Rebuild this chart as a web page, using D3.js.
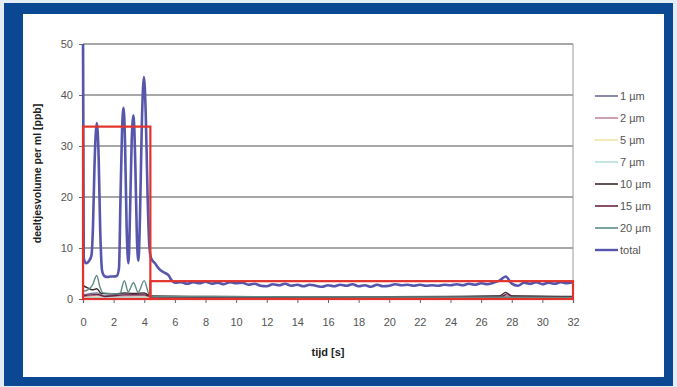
<!DOCTYPE html>
<html>
<head>
<meta charset="utf-8">
<script src="https://cdn.jsdelivr.net/npm/d3@7"></script>
<style>
  html, body { margin: 0; padding: 0; background: #ffffff; }
  svg { display: block; }
  text { font-family: "Liberation Sans", Arial, sans-serif; }
</style>
</head>
<body>
<svg id="chart" width="677" height="387"></svg>
<script>
// Particle volume per ml over time, per particle size class
const xTicks = [0, 2, 4, 6, 8, 10, 12, 14, 16, 18, 20, 22, 24, 26, 28, 30, 32];
const yTicks = [0, 10, 20, 30, 40, 50];

const seriesNames = ["1 µm", "2 µm", "5 µm", "7 µm", "10 µm", "15 µm", "20 µm", "total"];
const seriesColors = ["#6f6f94", "#c48a9a", "#efe4a6", "#b4dede", "#3b2b2b", "#6b2446", "#5e8c84", "#5656ac"];

// [time (s), volume (ppb)]
const size1 = [[0, 0.8], [0.9, 1.2], [1.4, 0.6], [2.7, 1.0], [3.3, 0.9], [4.0, 1.0], [4.5, 0.5], [10, 0.4], [20, 0.3], [27.6, 0.6], [32, 0.4]];
const size2 = [[0, 0.4], [0.9, 0.7], [1.4, 0.3], [2.7, 0.6], [4.0, 0.6], [4.5, 0.3], [16, 0.2], [27.6, 0.4], [32, 0.2]];
const size5 = [[0, 0.2], [0.9, 0.4], [2.7, 0.3], [4.0, 0.4], [4.5, 0.2], [32, 0.1]];
const size7 = [[0, 0.2], [0.9, 0.3], [2.7, 0.3], [4.0, 0.3], [4.5, 0.1], [32, 0.1]];
const size10 = [[0, 2.6], [0.3, 2.2], [0.6, 1.8], [0.9, 2.0], [1.2, 1.1], [2.0, 1.0], [2.7, 1.2], [3.3, 1.1], [4.0, 1.2], [4.4, 0.6], [8, 0.5], [16, 0.4], [24, 0.5], [27.2, 0.6], [27.6, 1.3], [28.0, 0.6], [32, 0.5]];
const size15 = [[0, 0.6], [0.9, 0.9], [1.4, 0.5], [2.7, 0.8], [4.0, 0.8], [4.5, 0.4], [12, 0.3], [27.3, 0.4], [27.7, 1.0], [28.1, 0.4], [32, 0.3]];
const size20 = [[0, 1.5], [0.3, 1.8], [0.6, 2.6], [0.9, 4.6], [1.1, 2.4], [1.3, 1.2], [2.4, 1.0], [2.7, 3.6], [2.95, 1.4], [3.3, 3.2], [3.6, 1.3], [4.0, 3.6], [4.3, 1.0], [4.6, 0.5], [32, 0.3]];
const total = [
  [0, 50], [0.05, 8], [0.2, 7], [0.4, 7.5], [0.55, 8.5], [0.65, 14], [0.75, 26], [0.9, 34.5], [1.02, 28],
  [1.12, 14], [1.25, 5.5], [1.4, 4.5], [1.6, 4.3], [1.8, 4.4], [2.0, 4.4], [2.2, 4.5], [2.35, 6],
  [2.45, 20], [2.55, 33], [2.65, 37.5], [2.75, 30], [2.85, 14], [2.97, 7], [3.08, 18], [3.18, 31], [3.3, 36],
  [3.42, 26], [3.52, 12], [3.62, 7.5], [3.72, 16], [3.84, 34], [3.98, 43.5], [4.1, 36], [4.22, 20], [4.34, 10],
  [4.45, 8], [4.7, 7], [5.0, 5.8], [5.3, 5.2], [5.6, 4.6], [5.8, 3.6], [6.0, 3.2], [6.4, 3.3], [6.8, 3.0],
  [7.2, 3.3], [7.6, 3.1], [8.0, 3.4], [8.4, 3.0], [8.8, 3.2], [9.2, 2.9], [9.6, 3.3], [10.0, 3.1], [10.4, 3.2],
  [10.8, 2.8], [11.2, 3.0], [11.6, 2.6], [12.0, 2.5], [12.4, 2.9], [12.8, 2.7], [13.2, 3.0], [13.6, 2.6],
  [14.0, 2.8], [14.4, 2.5], [14.8, 2.8], [15.2, 2.6], [15.6, 2.4], [16.0, 2.7], [16.4, 2.5], [16.8, 2.8],
  [17.2, 2.6], [17.6, 2.9], [18.0, 2.5], [18.4, 2.7], [18.8, 2.4], [19.2, 2.8], [19.6, 2.5], [20.0, 2.6],
  [20.4, 2.9], [20.8, 2.7], [21.2, 2.8], [21.6, 2.6], [22.0, 2.8], [22.4, 2.6], [22.8, 2.7], [23.2, 2.6],
  [23.6, 2.8], [24.0, 2.7], [24.4, 2.9], [24.8, 2.7], [25.2, 3.0], [25.6, 2.8], [26.0, 3.1], [26.4, 2.9],
  [26.8, 3.2], [27.2, 3.6], [27.6, 4.4], [28.0, 3.0], [28.4, 2.6], [28.8, 3.2], [29.2, 3.0], [29.6, 3.3],
  [30.0, 2.9], [30.4, 3.2], [30.8, 3.0], [31.2, 3.3], [31.6, 3.1], [32.0, 3.3]
];
const seriesData = [size1, size2, size5, size7, size10, size15, size20, total];

// Highlighted regions: [t start, t end, low, high]
const regions = [[0, 4.4, 0, 33.8], [4.4, 32, 0, 3.5]];

const svg = d3.select("#chart");

// Frame
svg.append("rect").attr("x", 0).attr("y", 0).attr("width", 677).attr("height", 387).attr("fill", "#e4ecf5");
svg.append("rect").attr("x", 4).attr("y", 3).attr("width", 669).attr("height", 383).attr("fill", "#0a4894");
svg.append("rect").attr("x", 23).attr("y", 14).attr("width", 641).attr("height", 363).attr("fill", "#ffffff");

const x = d3.scaleLinear().domain([0, 32]).range([83, 573]);
const y = d3.scaleLinear().domain([0, 50]).range([299, 44]);

// Gridlines
svg.append("g").selectAll("line").data(yTicks.filter(d => d > 0)).join("line")
  .attr("x1", x(0)).attr("x2", x(32))
  .attr("y1", d => y(d)).attr("y2", d => y(d))
  .attr("stroke", "#8a8a8a").attr("stroke-width", 1.3);

// Plot area right edge
svg.append("line").attr("x1", x(32)).attr("x2", x(32)).attr("y1", y(50)).attr("y2", y(0))
  .attr("stroke", "#9a9a9a").attr("stroke-width", 1);

// Axes
const yAxis = svg.append("g").attr("transform", `translate(${x(0)},0)`)
  .call(d3.axisLeft(y).tickValues(yTicks).tickSize(4).tickPadding(6));
const xAxis = svg.append("g").attr("transform", `translate(0,${y(0)})`)
  .call(d3.axisBottom(x).tickValues(xTicks).tickSize(4).tickPadding(15));
[yAxis, xAxis].forEach(g => {
  g.select(".domain").attr("stroke", "#555").attr("stroke-width", 1.2);
  g.selectAll(".tick line").attr("stroke", "#666");
  g.selectAll(".tick text").attr("fill", "#555").attr("font-size", 11)
    .attr("font-family", "Liberation Sans, Arial, sans-serif");
});

// Series lines
const line = d3.line().x(d => x(d[0])).y(d => y(d[1])).curve(d3.curveMonotoneX);
svg.append("g").selectAll("path").data(seriesData).join("path")
  .attr("d", line)
  .attr("fill", "none")
  .attr("stroke", (d, i) => seriesColors[i])
  .attr("stroke-width", (d, i) => i === 7 ? 2.6 : 1.4)
  .attr("stroke-linejoin", "round");

// Highlight boxes
svg.append("g").selectAll("rect").data(regions).join("rect")
  .attr("x", d => x(d[0])).attr("y", d => y(d[3]))
  .attr("width", d => x(d[1]) - x(d[0]))
  .attr("height", d => y(d[2]) - y(d[3]))
  .attr("fill", "none").attr("stroke", "#e2332c").attr("stroke-width", 2.2);

// Axis titles
svg.append("text")
  .attr("transform", `translate(41,${(y(0) + y(50)) / 2 + 2}) rotate(-90)`)
  .attr("text-anchor", "middle").attr("font-size", 10.5).attr("font-weight", "bold").attr("fill", "#222")
  .text("deeltjesvolume per ml [ppb]");
svg.append("text")
  .attr("x", (x(0) + x(32)) / 2).attr("y", 356)
  .attr("text-anchor", "middle").attr("font-size", 11).attr("font-weight", "bold").attr("fill", "#222")
  .text("tijd [s]");

// Legend
const legend = svg.append("g").selectAll("g").data(seriesNames).join("g")
  .attr("transform", (d, i) => `translate(595,${96 + i * 22})`);
legend.append("line").attr("x1", 0).attr("x2", 23).attr("y1", 0).attr("y2", 0)
  .attr("stroke", (d, i) => seriesColors[i]).attr("stroke-width", (d, i) => i === 7 ? 2.4 : 1.6);
legend.append("text").attr("x", 25).attr("y", 4).attr("font-size", 11).attr("fill", "#555")
  .text(d => d);
</script>
</body>
</html>
